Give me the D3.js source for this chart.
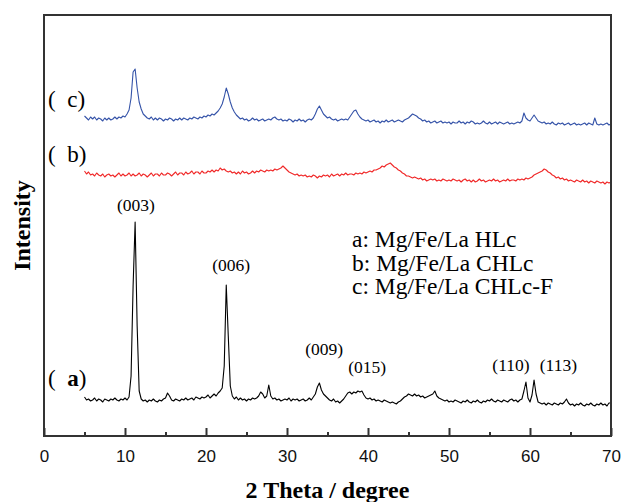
<!DOCTYPE html>
<html>
<head>
<meta charset="utf-8">
<script src="https://cdn.jsdelivr.net/npm/d3@7"></script>
<style>
  body { margin: 0; background: #fff; }
  svg { display: block; }
</style>
</head>
<body>
<svg id="chart" width="622" height="502"></svg>
<script>
// XRD patterns, scan from 5 to 70 deg, step 0.25 (intensity in a.u., curves stacked)
const scanStart = 5;
const scanStep = 0.25;

// a: Mg/Fe/La HLc
const seriesA = [
  39, 36, 37, 35,  36, 38, 35, 37,  36, 34, 37, 36,  35, 37, 36, 38,  36, 35, 37, 36,
  38, 36, 39, 60,  150, 214, 110, 45,  37, 35, 36, 34,  36, 35, 37, 35,  34, 36, 35, 37,
  38, 43, 40, 36,  35, 37, 36, 35,  37, 36, 38, 36,  37, 38, 36, 39,  38, 37, 39, 38,
  39, 41, 38, 40,  42, 40, 43, 45,  48, 70, 151, 100,  50, 40, 37, 39,  36, 38, 36, 37,
  35, 37, 36, 38,  37, 38, 40, 44,  42, 38, 40, 51,  40, 37, 38, 36,  37, 35, 36, 37,
  36, 38, 35, 37,  36, 37, 35, 36,  37, 35, 36, 38,  36, 39, 42, 49,  53, 46, 42, 40,
  38, 36, 35, 37,  34, 35, 33, 35,  37, 40, 43, 44,  42, 44, 43, 45,  44, 45, 41, 38,
  37, 38, 36, 37,  35, 36, 35, 34,  36, 35, 34, 33,  34, 33, 32, 34,  35, 37, 39, 40,
  42, 41, 40, 42,  40, 41, 39, 40,  38, 39, 40, 41,  42, 45, 40, 38,  37, 36, 35, 36,
  34, 35, 34, 36,  35, 34, 33, 35,  34, 36, 34, 33,  35, 34, 36, 34,  33, 35, 34, 36,
  35, 37, 35, 34,  36, 35, 34, 36,  35, 34, 36, 37,  35, 36, 34, 36,  37, 45, 54, 38,
  34, 41, 56, 42,  34, 33, 32, 33,  31, 33, 32, 31,  33, 32, 31, 33,  32, 34, 37, 33,
  31, 32, 30, 32,  31, 33, 31, 30,  32, 31, 33, 31,  30, 32, 31, 33,  31, 32, 30, 33,
  33
];

// b: Mg/Fe/La CHLc
const seriesB = [
  265, 262, 264, 261,  262, 260, 263, 261,  260, 262, 259, 261,  262, 260, 261, 259,  261, 263, 260, 262,
  260, 261, 263, 260,  262, 260, 261, 263,  260, 262, 261, 259,  261, 263, 260, 262,  262, 260, 263, 261,
  261, 263, 262, 260,  262, 264, 261, 263,  263, 261, 264, 262,  263, 265, 262, 264,  264, 262, 265, 263,
  263, 265, 264, 266,  264, 266, 265, 268,  266, 267, 265, 264,  265, 263, 264, 262,  264, 262, 265, 263,
  264, 262, 263, 265,  263, 265, 264, 266,  265, 264, 266, 265,  266, 265, 267, 266,  267, 268, 270, 268,
  266, 264, 263, 262,  261, 262, 260, 261,  260, 261, 259, 260,  259, 261, 260, 258,  260, 259, 261, 260,
  261, 259, 262, 260,  261, 262, 260, 262,  261, 263, 261, 262,  262, 261, 263, 262,  263, 262, 264, 263,
  264, 265, 264, 266,  266, 267, 268, 270,  269, 271, 272, 273,  271, 269, 268, 266,  265, 263, 262, 260,
  260, 259, 258, 259,  258, 257, 258, 256,  257, 255, 256, 257,  256, 257, 255, 256,  255, 257, 256, 255,
  256, 255, 257, 256,  255, 256, 254, 256,  257, 255, 256, 254,  256, 254, 255, 257,  255, 256, 254, 255,
  256, 255, 257, 255,  256, 254, 255, 256,  255, 257, 255, 256,  256, 255, 257, 256,  257, 256, 258, 257,
  258, 259, 261, 262,  263, 264, 265, 267,  266, 264, 263, 261,  260, 258, 259, 257,  258, 256, 257, 255,
  256, 255, 254, 256,  255, 254, 256, 254,  255, 253, 255, 254,  253, 255, 254, 253,  254, 252, 254, 253,
  254
];

// c: Mg/Fe/La CHLc-F
const seriesC = [
  320, 318, 316, 319,  317, 319, 316, 318,  317, 315, 318, 316,  318, 316, 317, 319,  317, 319, 318, 320,
  319, 322, 326, 338,  364, 367, 348, 334,  327, 322, 320, 318,  317, 319, 316, 318,  316, 318, 317, 315,
  317, 316, 318, 317,  315, 317, 316, 318,  316, 318, 317, 316,  318, 317, 319, 318,  317, 319, 318, 320,
  319, 321, 320, 322,  321, 323, 325, 328,  332, 339, 348, 342,  334, 328, 324, 321,  319, 317, 318, 316,
  317, 315, 316, 318,  316, 317, 315, 316,  317, 315, 316, 317,  316, 318, 319, 317,  316, 317, 315, 316,
  315, 317, 316, 314,  316, 315, 317, 315,  316, 314, 316, 317,  316, 318, 322, 327,  330, 326, 322, 320,
  318, 319, 317, 316,  317, 315, 316, 317,  316, 317, 316, 319,  322, 325, 326, 322,  319, 317, 316, 315,
  316, 314, 315, 316,  314, 315, 313, 315,  314, 316, 314, 315,  316, 314, 315, 316,  315, 314, 316, 317,
  318, 320, 322, 321,  320, 318, 317, 315,  316, 314, 315, 313,  314, 315, 313, 314,  315, 313, 314, 313,
  314, 312, 314, 313,  313, 315, 313, 314,  312, 314, 313, 315,  314, 312, 313, 312,  313, 315, 313, 312,
  314, 312, 313, 314,  312, 314, 313, 312,  313, 314, 312, 313,  312, 313, 314, 313,  315, 323, 318, 316,
  315, 318, 321, 318,  315, 314, 313, 314,  312, 313, 312, 314,  312, 311, 313, 312,  313, 311, 312, 313,
  311, 312, 313, 311,  312, 311, 312, 313,  311, 313, 312, 311,  318, 312, 311, 312,  311, 312, 313, 311,
  312
];

const seriesColors = ['#000000', '#f02828', '#3553a8'];

const xTicks = [0, 10, 20, 30, 40, 50, 60, 70];
const xMinorTicks = [5, 15, 25, 35, 45, 55, 65];

const peakLabels = ['(003)', '(006)', '(009)', '(015)', '(110)', '(113)'];
const peakLabelX = [11.35, 23.1, 34.6, 39.9, 57.65, 63.5];
const peakLabelY = [225, 165, 81, 63, 65, 65];

const curveTags = ['a', 'b', 'c'];
const curveTagY = [50, 274, 329];

const legendLines = ['a: Mg/Fe/La HLc', 'b: Mg/Fe/La CHLc', 'c: Mg/Fe/La CHLc-F'];

const margin = { top: 15, right: 11, bottom: 66, left: 44 };
const width = 622 - margin.left - margin.right;
const height = 502 - margin.top - margin.bottom;

const svg = d3.select('#chart');
const g = svg.append('g').attr('transform', `translate(${margin.left},${margin.top})`);

const x = d3.scaleLinear().domain([0, 70]).range([0, width]);
const y = d3.scaleLinear().domain([0, 421]).range([height, 0]);

const twoTheta = seriesA.map((d, i) => scanStart + i * scanStep);

const line = d3.line()
  .x((d, i) => x(twoTheta[i]))
  .y(d => y(d));

[seriesA, seriesB, seriesC].forEach((s, k) => {
  g.append('path')
    .datum(s)
    .attr('fill', 'none')
    .attr('stroke', seriesColors[k])
    .attr('stroke-width', 1.1)
    .attr('stroke-linejoin', 'round')
    .attr('d', line);
});

// ticks pointing inward
g.append('g')
  .attr('transform', `translate(0,${height})`)
  .call(d3.axisBottom(x).tickValues(xMinorTicks).tickSize(-4).tickFormat(''))
  .call(a => a.select('.domain').remove())
  .selectAll('line').attr('stroke', '#333').attr('stroke-width', 2);

const xAxis = g.append('g')
  .attr('transform', `translate(0,${height})`)
  .call(d3.axisBottom(x).tickValues(xTicks).tickSize(-8).tickPadding(14).tickFormat(d3.format('d')));
xAxis.select('.domain').remove();
xAxis.selectAll('line').attr('stroke', '#333').attr('stroke-width', 2);
xAxis.selectAll('text')
  .attr('fill', '#111')
  .style('font-family', '"Liberation Sans", Arial, sans-serif')
  .style('font-size', '17px');

// frame
g.append('rect')
  .attr('width', width)
  .attr('height', height)
  .attr('fill', 'none')
  .attr('stroke', '#333')
  .attr('stroke-width', 2);

const serif = '"Liberation Serif", "Times New Roman", serif';

g.selectAll('.peak')
  .data(peakLabels)
  .enter()
  .append('text')
  .attr('class', 'peak')
  .attr('x', (d, i) => x(peakLabelX[i]))
  .attr('y', (d, i) => y(peakLabelY[i]))
  .attr('text-anchor', 'middle')
  .style('font-family', serif)
  .style('font-size', '17.5px')
  .text(d => d);

g.selectAll('.tag')
  .data(curveTags)
  .enter()
  .append('text')
  .attr('class', 'tag')
  .attr('x', 4)
  .attr('y', (d, i) => y(curveTagY[i]))
  .style('font-family', serif)
  .style('font-size', '23px')
  .html(d => `(&#160;&#160;<tspan font-weight="${d === 'a' ? 'bold' : 'normal'}">${d}</tspan>)`);

g.selectAll('.legend')
  .data(legendLines)
  .enter()
  .append('text')
  .attr('class', 'legend')
  .attr('x', 308)
  .attr('y', (d, i) => 232 + i * 23.5)
  .style('font-family', serif)
  .style('font-size', '23.5px')
  .text(d => d);

svg.append('text')
  .attr('x', margin.left + width / 2)
  .attr('y', 498)
  .attr('text-anchor', 'middle')
  .style('font-family', serif)
  .style('font-size', '24px')
  .style('font-weight', 'bold')
  .text('2 Theta / degree');

svg.append('text')
  .attr('transform', `translate(30,${margin.top + height / 2}) rotate(-90)`)
  .attr('text-anchor', 'middle')
  .style('font-family', serif)
  .style('font-size', '24px')
  .style('font-weight', 'bold')
  .text('Intensity');
</script>
</body>
</html>
